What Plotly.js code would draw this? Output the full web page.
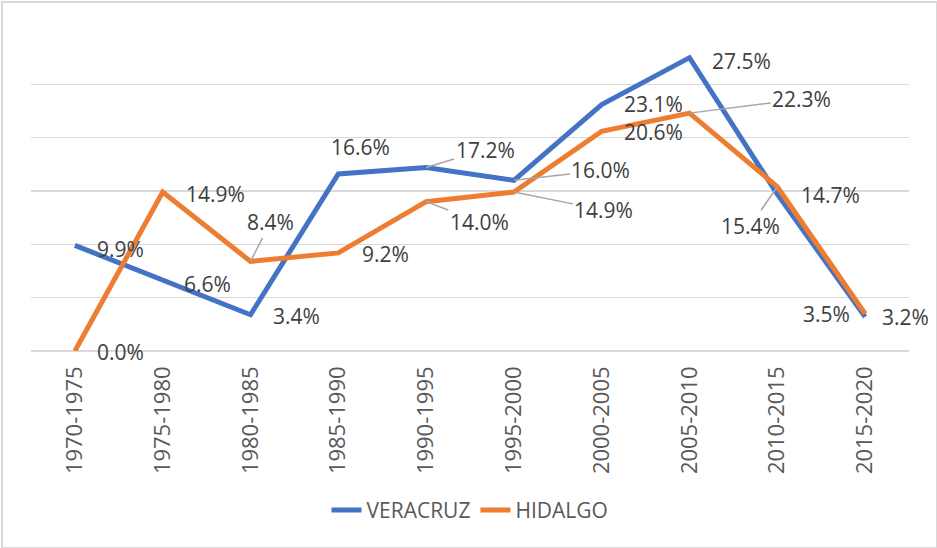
<!DOCTYPE html>
<html>
<head>
<meta charset="utf-8">
<script src="https://cdn.plot.ly/plotly-3.0.1.min.js"></script>
<style>
  html, body { margin: 0; padding: 0; background: #fff; }
  #wrap { position: relative; width: 937px; height: 548px; overflow: hidden; }
  #chart { width: 937px; height: 548px; }
  #frame { position: absolute; left: 1px; top: 1px; width: 937px; height: 548px; border: 2px solid #d9d9d9; box-sizing: border-box; pointer-events: none; }
</style>
</head>
<body>
<div id="wrap"><div id="chart"></div><div id="frame"></div></div>
<script>
// ---- data ----
const periods = ["1970-1975","1975-1980","1980-1985","1985-1990","1990-1995","1995-2000","2000-2005","2005-2010","2010-2015","2015-2020"];
const veracruz = [9.9, 6.6, 3.4, 16.6, 17.2, 16.0, 23.1, 27.5, 14.7, 3.2];
const hidalgo  = [0.0, 14.9, 8.4, 9.2, 14.0, 14.9, 20.6, 22.3, 15.4, 3.5];
const seriesNames = ["VERACRUZ", "HIDALGO"];

// ---- label placement (pixel offsets from each point) ----
const verOffX = [46, 45, 46, 22, 59, 87, 52, 52, 53, 40];
const verOffY = [4, 3, 1, -27, -18, -10, -1, 3, 1, 0];
const verLeader = [false, false, false, false, true, true, false, false, false, false];
const hidOffX = [46, 53, 20, 47, 53, 90, 52, 112, -27, -39];
const hidOffY = [1, 2, -39, 1, 20, 18, 1, -14, 39, 0];
const hidLeader = [false, false, true, false, true, true, false, true, true, false];

const blue = "#4472C4", orange = "#ED7D31";

const traces = [
  { x: periods, y: veracruz, name: seriesNames[0], type: "scatter", mode: "lines",
    line: { color: blue, width: 5 } },
  { x: periods, y: hidalgo, name: seriesNames[1], type: "scatter", mode: "lines",
    line: { color: orange, width: 5 } }
];

const annotations = [];
function addLabels(vals, offX, offY, leader) {
  vals.forEach((v, i) => {
    annotations.push({
      x: periods[i], y: v, xref: "x", yref: "y",
      text: v.toFixed(1) + "%",
      showarrow: true, arrowhead: 0, arrowwidth: 1.5, standoff: 0,
      arrowcolor: leader[i] ? "#a6a6a6" : "rgba(0,0,0,0)",
      ax: offX[i], ay: offY[i],
      font: { family: "Open Sans", size: 21, color: "#404040" }
    });
  });
}
addLabels(veracruz, verOffX, verOffY, verLeader);
addLabels(hidalgo, hidOffX, hidOffY, hidLeader);

const layout = {
  width: 937, height: 548,
  margin: { l: 31, r: 28, t: 31, b: 196.5 },
  paper_bgcolor: "#ffffff", plot_bgcolor: "#ffffff",
  font: { family: "Open Sans", size: 20, color: "#595959" },
  showlegend: true,
  legend: { orientation: "h", x: 0.5, xanchor: "center", y: -0.4977, yanchor: "middle",
            font: { family: "Open Sans", size: 21, color: "#595959" } },
  xaxis: { type: "category", range: [-0.5, 9.5], tickangle: -90, showgrid: false, zeroline: false, showline: false,
           ticks: "", ticklabelstandoff: 10,
           tickfont: { family: "Open Sans", size: 22, color: "#595959" } },
  yaxis: { range: [0, 30], dtick: 5, showticklabels: false, showgrid: true,
           gridcolor: "#d9d9d9", gridwidth: 1.5, zeroline: true, zerolinecolor: "#d9d9d9",
           zerolinewidth: 1.5, showline: false, ticks: "" },
  annotations: annotations,
  hovermode: false
};

Plotly.newPlot("chart", traces, layout, { displayModeBar: false, staticPlot: true });
</script>
</body>
</html>
